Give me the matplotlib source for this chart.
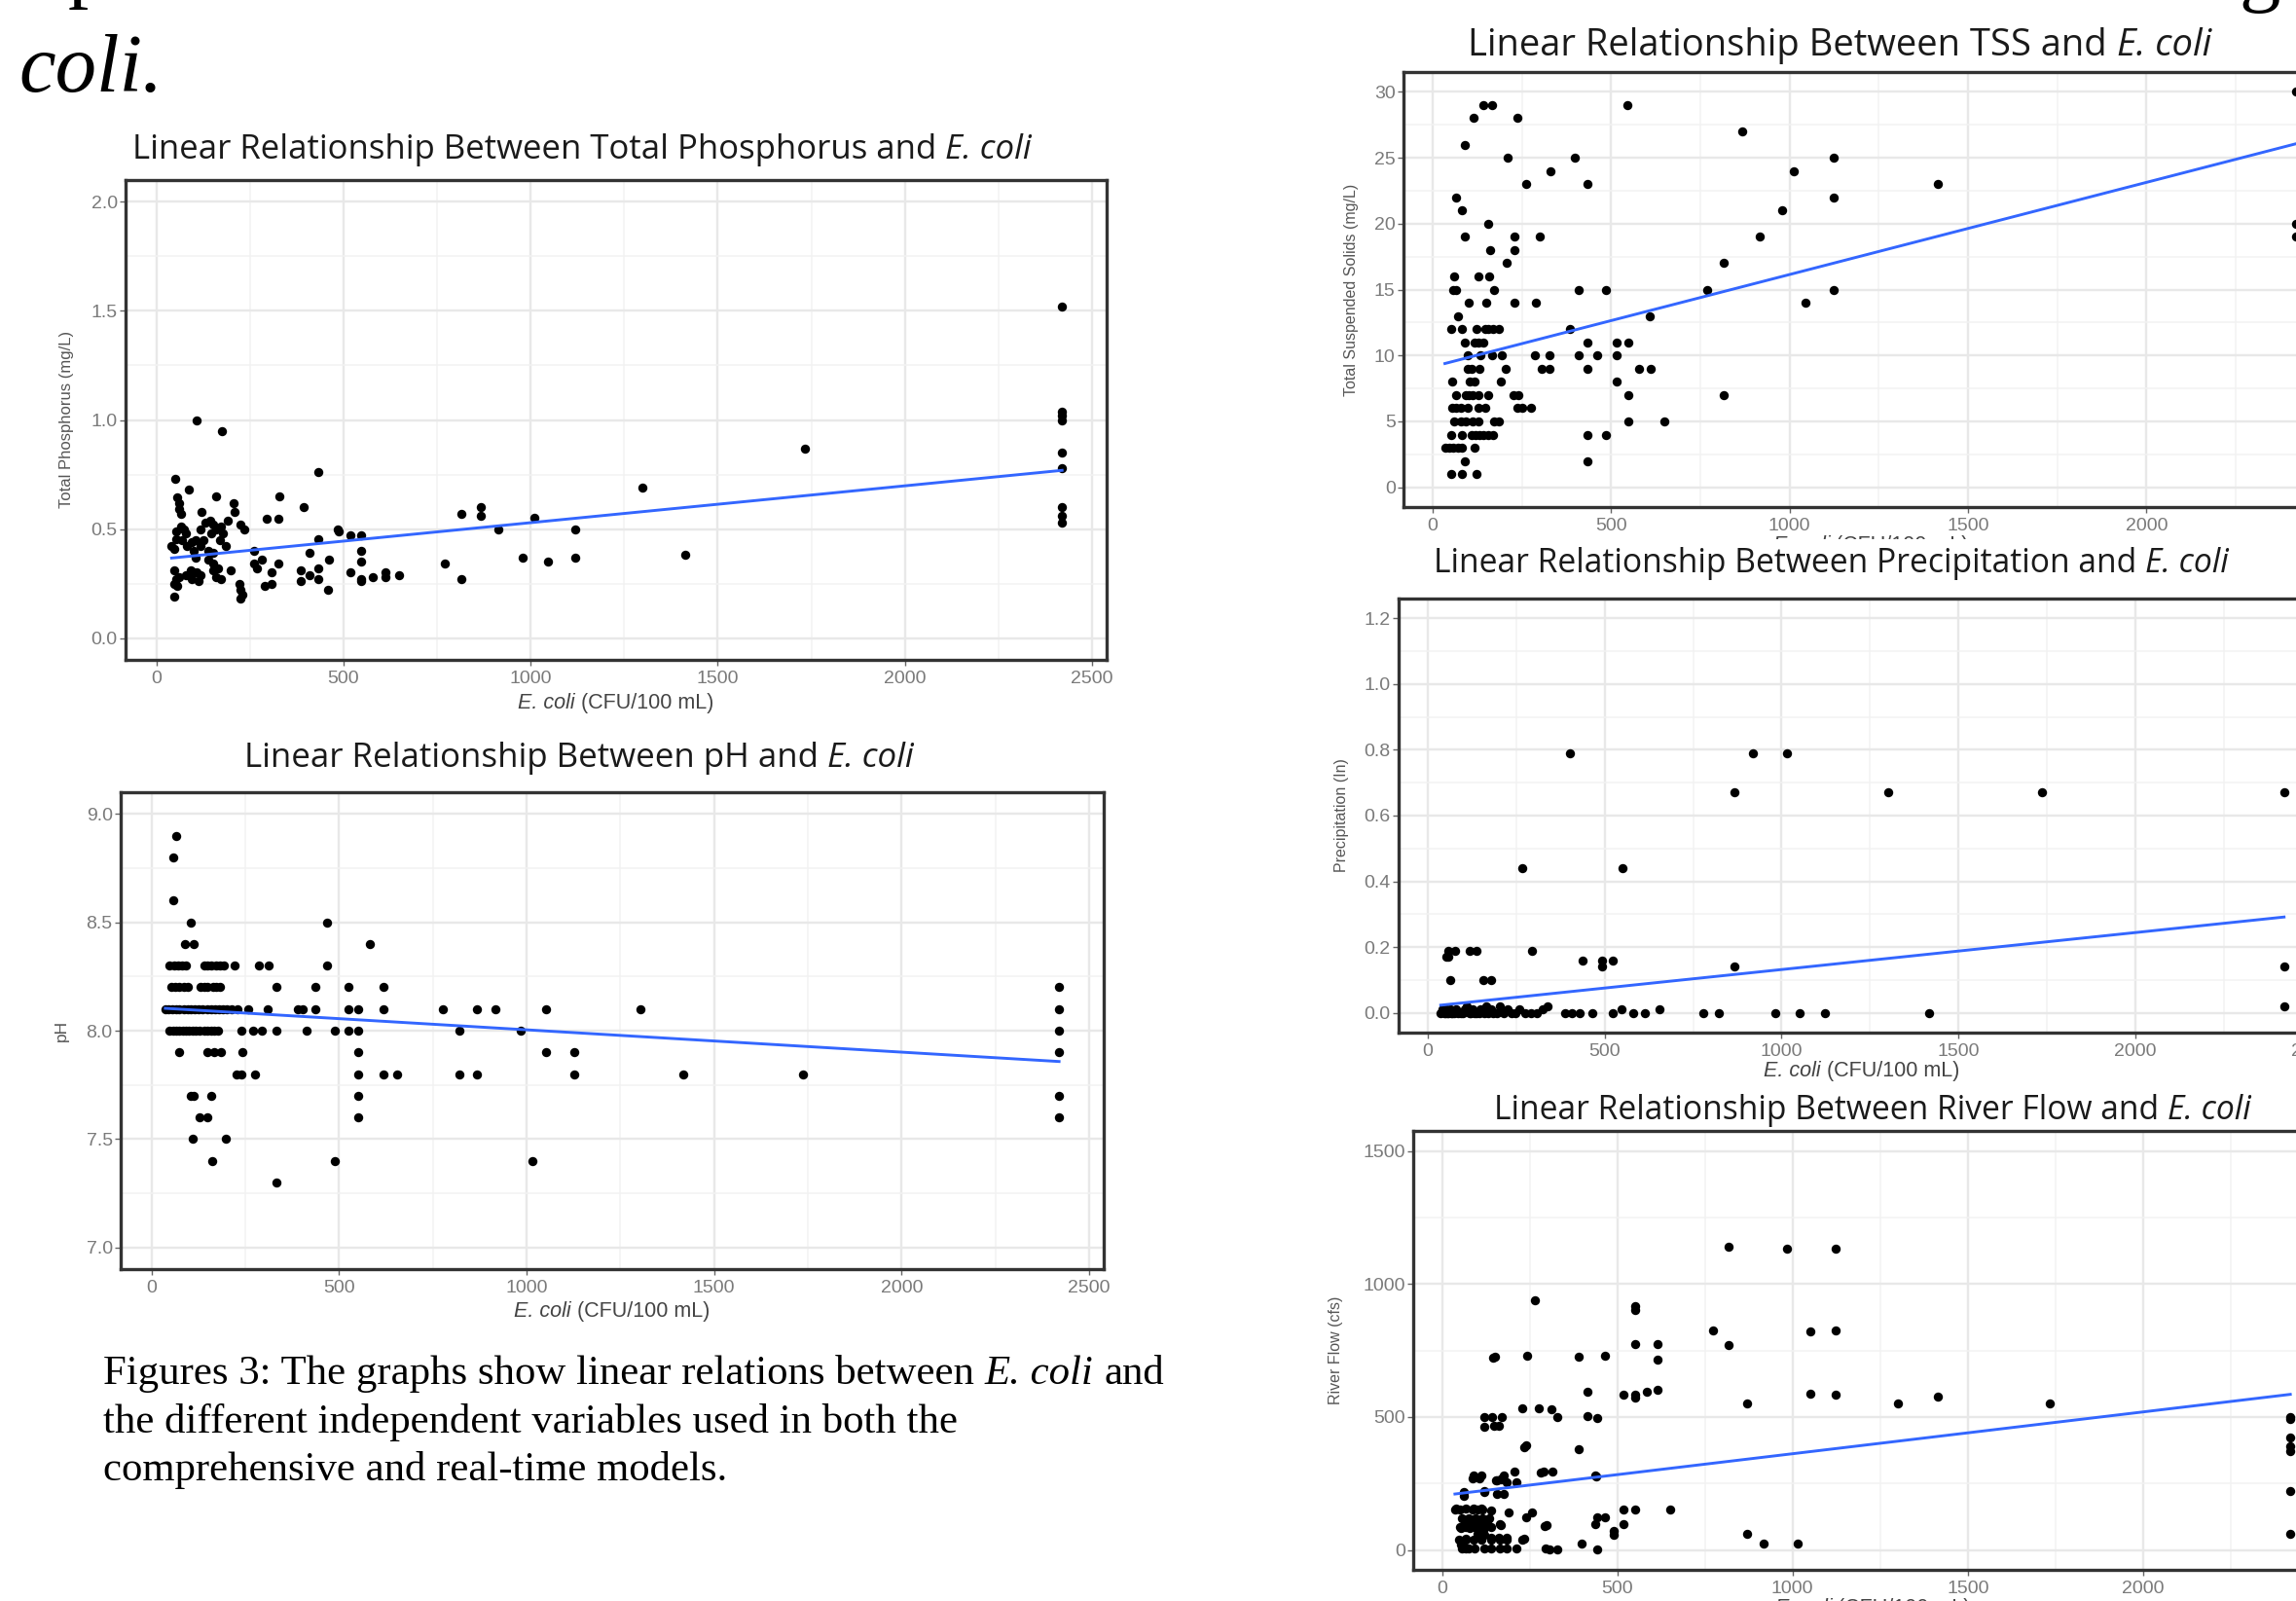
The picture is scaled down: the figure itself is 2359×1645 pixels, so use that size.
import numpy as np
import matplotlib
matplotlib.use('Agg')
import matplotlib.pyplot as plt
from matplotlib.transforms import IdentityTransform, Bbox
from matplotlib.ticker import MultipleLocator, FormatStrFormatter

# ---- data (E. coli in CFU/100 mL) ----
tp_points = [(109, 1.00), (176, 0.95), (50, 0.73), (87, 0.68), (161, 0.65), (57, 0.645),
             (61, 0.62), (207, 0.62), (61, 0.59), (65, 0.57), (120, 0.58), (209, 0.58),
             (65, 0.51), (52, 0.49), (74, 0.50), (78, 0.48), (117, 0.50), (130, 0.53),
             (143, 0.54), (152, 0.52), (161, 0.50), (174, 0.51), (191, 0.54), (148, 0.48),
             (178, 0.48), (226, 0.52), (235, 0.50), (52, 0.455), (70, 0.45), (96, 0.44),
             (104, 0.45), (126, 0.45), (170, 0.45), (41, 0.42), (48, 0.41), (83, 0.42),
             (100, 0.40), (117, 0.42), (139, 0.40), (152, 0.39), (187, 0.42), (104, 0.37),
             (139, 0.36), (152, 0.34), (165, 0.32), (200, 0.31), (48, 0.31), (61, 0.28),
             (78, 0.29), (91, 0.31), (100, 0.30), (109, 0.30), (117, 0.29), (152, 0.31),
             (161, 0.28), (174, 0.27), (52, 0.27), (48, 0.25), (57, 0.24), (113, 0.26),
             (96, 0.27), (48, 0.19), (222, 0.25), (226, 0.22), (231, 0.20), (224, 0.18),
             (261, 0.40), (283, 0.36), (261, 0.34), (270, 0.32), (309, 0.30), (326, 0.34),
             (329, 0.65), (296, 0.545), (326, 0.545), (291, 0.24), (309, 0.25), (394, 0.60),
             (433, 0.76), (433, 0.455), (409, 0.39), (387, 0.31), (387, 0.26), (409, 0.29),
             (433, 0.32), (433, 0.27), (461, 0.36), (459, 0.22), (485, 0.50), (488, 0.49),
             (518, 0.47), (546, 0.47), (546, 0.40), (546, 0.35), (546, 0.27), (546, 0.26),
             (518, 0.30), (579, 0.28), (611, 0.30), (611, 0.28), (648, 0.29), (770, 0.34),
             (816, 0.57), (816, 0.27), (866, 0.60), (866, 0.56), (914, 0.50), (980, 0.37),
             (1011, 0.55), (1046, 0.35), (1120, 0.50), (1120, 0.37), (1300, 0.69),
             (1414, 0.38), (1733, 0.87), (2420, 1.52), (2420, 1.04), (2420, 1.02),
             (2420, 1.00), (2420, 0.85), (2420, 0.78), (2420, 0.60), (2420, 0.56), (2420, 0.53)]

ph_points = [(66, 8.9), (58, 8.8), (58, 8.6), (104, 8.5), (468, 8.5), (89, 8.4), (113, 8.4),
             (583, 8.4),
             (49, 8.3), (60, 8.3), (71, 8.3), (82, 8.3), (93, 8.3), (140, 8.3), (150, 8.3),
             (160, 8.3), (172, 8.3), (182, 8.3), (194, 8.3), (222, 8.3), (286, 8.3),
             (313, 8.3), (468, 8.3),
             (53, 8.2), (64, 8.2), (75, 8.2), (86, 8.2), (97, 8.2), (131, 8.2), (140, 8.2),
             (150, 8.2), (165, 8.2), (173, 8.2), (182, 8.2), (332, 8.2), (437, 8.2),
             (525, 8.2), (618, 8.2), (2420, 8.2),
             (37, 8.1), (45, 8.1), (55, 8.1), (65, 8.1), (75, 8.1), (86, 8.1), (96, 8.1),
             (105, 8.1), (115, 8.1), (125, 8.1), (135, 8.1), (150, 8.1), (160, 8.1),
             (170, 8.1), (180, 8.1), (190, 8.1), (200, 8.1), (214, 8.1), (230, 8.1),
             (259, 8.1), (310, 8.1), (390, 8.1), (404, 8.1), (437, 8.1), (525, 8.1),
             (552, 8.1), (618, 8.1), (778, 8.1), (869, 8.1), (918, 8.1), (1051, 8.1),
             (1303, 8.1), (2420, 8.1),
             (49, 8.0), (58, 8.0), (66, 8.0), (75, 8.0), (83, 8.0), (92, 8.0), (100, 8.0),
             (109, 8.0), (118, 8.0), (127, 8.0), (140, 8.0), (150, 8.0), (160, 8.0),
             (168, 8.0), (177, 8.0), (240, 8.0), (270, 8.0), (295, 8.0), (332, 8.0),
             (414, 8.0), (490, 8.0), (525, 8.0), (552, 8.0), (820, 8.0), (984, 8.0),
             (2420, 8.0),
             (73, 7.9), (150, 7.9), (168, 7.9), (186, 7.9), (242, 7.9), (552, 7.9),
             (1051, 7.9), (1126, 7.9), (2420, 7.9),
             (226, 7.8), (240, 7.8), (277, 7.8), (552, 7.8), (618, 7.8), (654, 7.8),
             (820, 7.8), (869, 7.8), (1126, 7.8), (1418, 7.8), (1738, 7.8),
             (104, 7.7), (113, 7.7), (159, 7.7), (552, 7.7), (2420, 7.7),
             (128, 7.6), (150, 7.6), (552, 7.6), (2420, 7.6),
             (109, 7.5), (199, 7.5), (162, 7.4), (490, 7.4), (1015, 7.4), (332, 7.3)]

tss_points = [(143, 29), (166, 29), (545, 29), (114, 28), (238, 28), (867, 27), (90, 26),
              (209, 25), (399, 25), (1124, 25), (331, 24), (1012, 24), (262, 23), (434, 23),
              (1416, 23), (64, 22), (1124, 22), (81, 21), (980, 21), (156, 20), (2420, 20),
              (90, 19), (230, 19), (299, 19), (915, 19), (2420, 19), (161, 18), (230, 18),
              (206, 17), (816, 17), (61, 16), (127, 16), (157, 16),
              (57, 15), (66, 15), (171, 15), (410, 15), (486, 15), (770, 15), (1124, 15),
              (102, 14), (150, 14), (230, 14), (290, 14), (1044, 14), (71, 13), (608, 13),
              (52, 12), (81, 12), (123, 12), (146, 12), (156, 12), (170, 12), (184, 12),
              (384, 12),
              (90, 11), (118, 11), (129, 11), (143, 11), (434, 11), (514, 11), (547, 11),
              (98, 10), (134, 10), (165, 10), (193, 10), (286, 10), (326, 10), (410, 10),
              (462, 10), (514, 10),
              (98, 9), (109, 9), (131, 9), (205, 9), (306, 9), (326, 9), (434, 9), (579, 9),
              (610, 9),
              (55, 8), (104, 8), (116, 8), (191, 8), (514, 8),
              (66, 7), (93, 7), (102, 7), (113, 7), (129, 7), (156, 7), (227, 7), (240, 7),
              (547, 7), (816, 7),
              (55, 6), (66, 6), (80, 6), (98, 6), (129, 6), (147, 6), (236, 6), (250, 6),
              (274, 6),
              (61, 5), (80, 5), (93, 5), (111, 5), (129, 5), (173, 5), (186, 5), (547, 5),
              (648, 5),
              (52, 4), (82, 4), (109, 4), (120, 4), (131, 4), (143, 4), (156, 4), (170, 4),
              (434, 4), (486, 4),
              (34, 3), (46, 3), (57, 3), (71, 3), (81, 3), (118, 3), (90, 2), (434, 2),
              (52, 1), (81, 1), (122, 1), (2420, 30)]

precip_points = [(402, 0.79), (918, 0.79), (1014, 0.79), (868, 0.67), (1302, 0.67),
                 (1735, 0.67), (2420, 0.67), (268, 0.44), (551, 0.44),
                 (59, 0.19), (77, 0.19), (120, 0.19), (138, 0.19), (295, 0.19),
                 (54, 0.17), (58, 0.17), (438, 0.16), (492, 0.16), (524, 0.16),
                 (492, 0.14), (868, 0.14), (2420, 0.14), (63, 0.10), (157, 0.10), (179, 0.10),
                 (2420, 0.02),
                 (37, 0.0), (41, 0.01), (46, 0.0), (49, 0.0), (52, 0.01), (55, 0.0), (58, 0.0),
                 (63, 0.01), (66, 0.0), (69, 0.0), (75, 0.0), (81, 0.01), (86, 0.0), (93, 0.0),
                 (99, 0.0), (105, 0.01), (111, 0.02), (118, 0.0), (122, 0.0), (127, 0.01),
                 (133, 0.0), (137, 0.0), (145, 0.0), (150, 0.01), (160, 0.0), (166, 0.02),
                 (172, 0.0), (179, 0.01), (186, 0.0), (196, 0.0), (204, 0.02), (214, 0.0),
                 (225, 0.01), (236, 0.0), (248, 0.0), (260, 0.01), (275, 0.0), (291, 0.0),
                 (308, 0.0), (326, 0.01), (339, 0.02), (389, 0.0), (407, 0.0), (429, 0.0),
                 (465, 0.0), (522, 0.0), (549, 0.01), (581, 0.0), (613, 0.0), (655, 0.01),
                 (778, 0.0), (823, 0.0), (982, 0.0), (1052, 0.0), (1123, 0.0), (1418, 0.0)]

flow_points = [(818, 1140), (985, 1132), (1122, 1132), (266, 938), (552, 915), (552, 902),
               (773, 826), (1050, 820), (1122, 826), (552, 775), (615, 775), (818, 770),
               (145, 724), (152, 728), (243, 730), (389, 726), (465, 730), (615, 715),
               (416, 594), (519, 583), (550, 583), (583, 594), (614, 602), (552, 574),
               (1050, 587), (1122, 583), (869, 551), (1301, 551), (1415, 578), (1734, 551),
               (2420, 498), (2420, 491), (2420, 421), (2420, 389), (2420, 370), (2420, 223),
               (2420, 60), (230, 532), (275, 532), (311, 530), (329, 498), (416, 502),
               (442, 495), (121, 498), (143, 498), (172, 498), (121, 462), (148, 466),
               (161, 466), (235, 387), (239, 392), (389, 379), (290, 294), (315, 294),
               (208, 294), (438, 281), (212, 255), (90, 281), (112, 281), (157, 262),
               (172, 268), (185, 255), (63, 217), (63, 204), (121, 217), (157, 210),
               (176, 210), (40, 156), (67, 156), (90, 156), (112, 156), (139, 147),
               (190, 140), (257, 140), (239, 121), (443, 121), (465, 121), (519, 153),
               (550, 153), (652, 153), (438, 96), (519, 98), (297, 93), (67, 102), (90, 102),
               (112, 108), (130, 102), (166, 96), (54, 83), (80, 83), (103, 83), (121, 83),
               (489, 70), (489, 57), (869, 60), (918, 23), (1014, 23), (398, 23), (230, 38),
               (49, 38), (67, 38), (90, 38), (112, 38), (139, 38), (166, 38), (185, 38),
               (58, 5), (76, 5), (121, 5), (166, 5), (212, 5), (308, 2), (329, 2), (442, 2),
               (54, 19), (37, 153), (51, 153), (88, 153), (102, 153), (116, 153), (56, 120),
               (75, 120), (95, 120), (115, 120), (134, 120), (51, 86), (69, 86), (92, 86),
               (115, 86), (139, 86), (167, 94), (292, 89), (102, 61), (120, 55), (139, 47),
               (162, 47), (185, 47), (69, 43), (234, 43), (69, 6), (92, 6), (139, 6),
               (185, 6), (296, 6), (88, 270), (106, 270), (167, 266), (176, 280), (282, 292),
               (440, 278), (153, 261), (120, 220)]

# fitted lm lines as printed on the page: (intercept, slope)
tp_fit = (0.360, 0.000169)
ph_fit = (8.107, -0.000103)
tss_fit = (9.15, 0.00699)
precip_fit = (0.0193, 0.0001125)
flow_fit = (204.3, 0.1572)

W, H = 2359, 1645
plt.rcParams['font.family'] = ['Liberation Sans', 'DejaVu Sans']
fig = plt.figure(figsize=(W / 100, H / 100), dpi=100)
fig.patch.set_facecolor('white')
renderer = fig.canvas.get_renderer()


def text_width(s, **kw):
    # advance width of s, spaces included
    t = fig.text(0, 0, '|' + s + '|', **kw)
    t0 = fig.text(0, 0, '||', **kw)
    w = t.get_window_extent(renderer).width - t0.get_window_extent(renderer).width
    t.remove()
    t0.remove()
    return w


def rich_text(x, y, parts, ha='left', size=20, width=None, clip=None, **kw):
    # parts drawn side by side; x, y in pixels from top-left, y = baseline
    if width is not None:
        total = sum(text_width(s, size=size, style=st, **kw) for s, st in parts)
        size = size * width / total
    x0 = x
    if ha == 'center':
        x0 = x - sum(text_width(s, size=size, style=st, **kw) for s, st in parts) / 2
    for s, st in parts:
        lead = len(s) - len(s.lstrip())
        off = text_width(s[:lead], size=size, style=st, **kw) if lead else 0
        t = fig.text(x0 + off, H - y, s.strip(), size=size, style=st, va='baseline',
                     ha='left', transform=IdentityTransform(), **kw)
        if clip is not None:
            # clip = (left, top, right, bottom) in pixels from top-left
            t.set_clip_box(Bbox.from_extents(clip[0], H - clip[3], clip[2], H - clip[1]))
            t.set_clip_on(True)
        x0 += text_width(s, size=size, style=st, **kw)
    return size


def add_panel(box, points, fit, ylim, ystep, yfmt):
    l, t, r, b = box
    ax = fig.add_axes([l / W, 1 - b / H, (r - l) / W, (b - t) / H])
    x, y = np.array(points, dtype=float).T
    ax.scatter(x, y, s=46, c='black', lw=0, zorder=3)
    xs = np.array([x.min(), x.max()])
    ax.plot(xs, fit[0] + fit[1] * xs, color='#3366ff', lw=2.1, zorder=4)
    ax.set_xlim(-82, 2539)
    ax.set_ylim(*ylim)
    ax.xaxis.set_major_locator(MultipleLocator(500))
    ax.xaxis.set_minor_locator(MultipleLocator(250))
    ax.yaxis.set_major_locator(MultipleLocator(ystep))
    ax.yaxis.set_minor_locator(MultipleLocator(ystep / 2))
    ax.yaxis.set_major_formatter(FormatStrFormatter(yfmt))
    ax.grid(which='major', color='#e8e8e8', lw=1.7)
    ax.grid(which='minor', color='#f2f2f2', lw=1.1)
    ax.set_axisbelow(True)
    for sp in ax.spines.values():
        sp.set_color('#333333')
        sp.set_linewidth(2.4)
    ax.tick_params(which='major', length=4, width=1, color='#666666',
                   labelsize=14, labelcolor='#7a7a7a')
    ax.tick_params(axis='x', pad=4)
    ax.tick_params(axis='y', pad=2)
    ax.tick_params(which='minor', length=0)
    return ax


def ylabel(x, y, s, size=12):
    fig.text(x, H - y, s, rotation=90, ha='center', va='center', size=size,
             color='#555555', transform=IdentityTransform())


ecoli_label = [('E. coli', 'italic'), (' (CFU/100 mL)', 'normal')]

# left column
add_panel((129, 185, 1137, 678), tp_points, tp_fit, (-0.1, 2.1), 0.5, '%.1f')
add_panel((124, 814, 1134, 1304), ph_points, ph_fit, (6.9, 9.1), 0.5, '%.1f')
# right column, cut off by the page edge
add_panel((1442, 74, 2403, 521), tss_points, tss_fit, (-1.5, 31.5), 5, '%d')
add_panel((1437, 615, 2390, 1061), precip_points, precip_fit, (-0.06, 1.26), 0.2, '%.1f')
add_panel((1452, 1162, 2396, 1613), flow_points, flow_fit, (-75, 1575), 500, '%d')

title_kw = dict(family=['Open Sans', 'DejaVu Sans'], color='#1a1a1a')
rich_text(598, 163, [('Linear Relationship Between Total Phosphorus and ', 'normal'),
                     ('E. coli', 'italic')], ha='center', width=923, **title_kw)
rich_text(595, 788, [('Linear Relationship Between pH and ', 'normal'),
                     ('E. coli', 'italic')], ha='center', width=687, **title_kw)
rich_text(1890, 57, [('Linear Relationship Between TSS and ', 'normal'),
                     ('E. coli', 'italic')], ha='center', width=763, **title_kw)
rich_text(1881, 588, [('Linear Relationship Between Precipitation and ', 'normal'),
                      ('E. coli', 'italic')], ha='center', width=816, **title_kw)
rich_text(1924, 1150, [('Linear Relationship Between River Flow and ', 'normal'),
                       ('E. coli', 'italic')], ha='center', width=778, **title_kw)

# axis titles
lab_kw = dict(size=15.5, color='#444444')
rich_text(633, 728, ecoli_label, ha='center', **lab_kw)
rich_text(629, 1353, ecoli_label, ha='center', **lab_kw)
# hidden behind the precipitation screenshot except for its top edge
rich_text(1922, 566, ecoli_label, ha='center', clip=(1330, 0, W, 554), **lab_kw)
rich_text(1913, 1106, ecoli_label, ha='center', **lab_kw)
rich_text(1924, 1658, ecoli_label, ha='center', **lab_kw)

ylabel(68, 431, 'Total Phosphorus (mg/L)', 12)
ylabel(63, 1059, 'pH', 12.5)
ylabel(1389, 298, 'Total Suspended Solids (mg/L)', 11.5)
ylabel(1379, 838, 'Precipitation (In)', 11.5)
ylabel(1372, 1387, 'River Flow (cfs)', 11.5)

# surrounding document text
serif = dict(family=['Liberation Serif', 'DejaVu Serif'], color='black')
rich_text(19, 94, [('coli.', 'italic')], size=61, **serif)
rich_text(70, -8, [('p', 'normal')], size=61, **serif)
rich_text(2300, -4, [('g', 'normal')], size=61, **serif)
cap = rich_text(106, 1422, [('Figures 3: The graphs show linear relations between ', 'normal'),
                            ('E. coli', 'italic'), (' and', 'normal')], width=1088, **serif)
rich_text(106, 1472, [('the different independent variables used in both the', 'normal')],
          size=cap, **serif)
rich_text(106, 1521, [('comprehensive and real-time models.', 'normal')], size=cap, **serif)

fig.savefig('out.png', dpi=100)
